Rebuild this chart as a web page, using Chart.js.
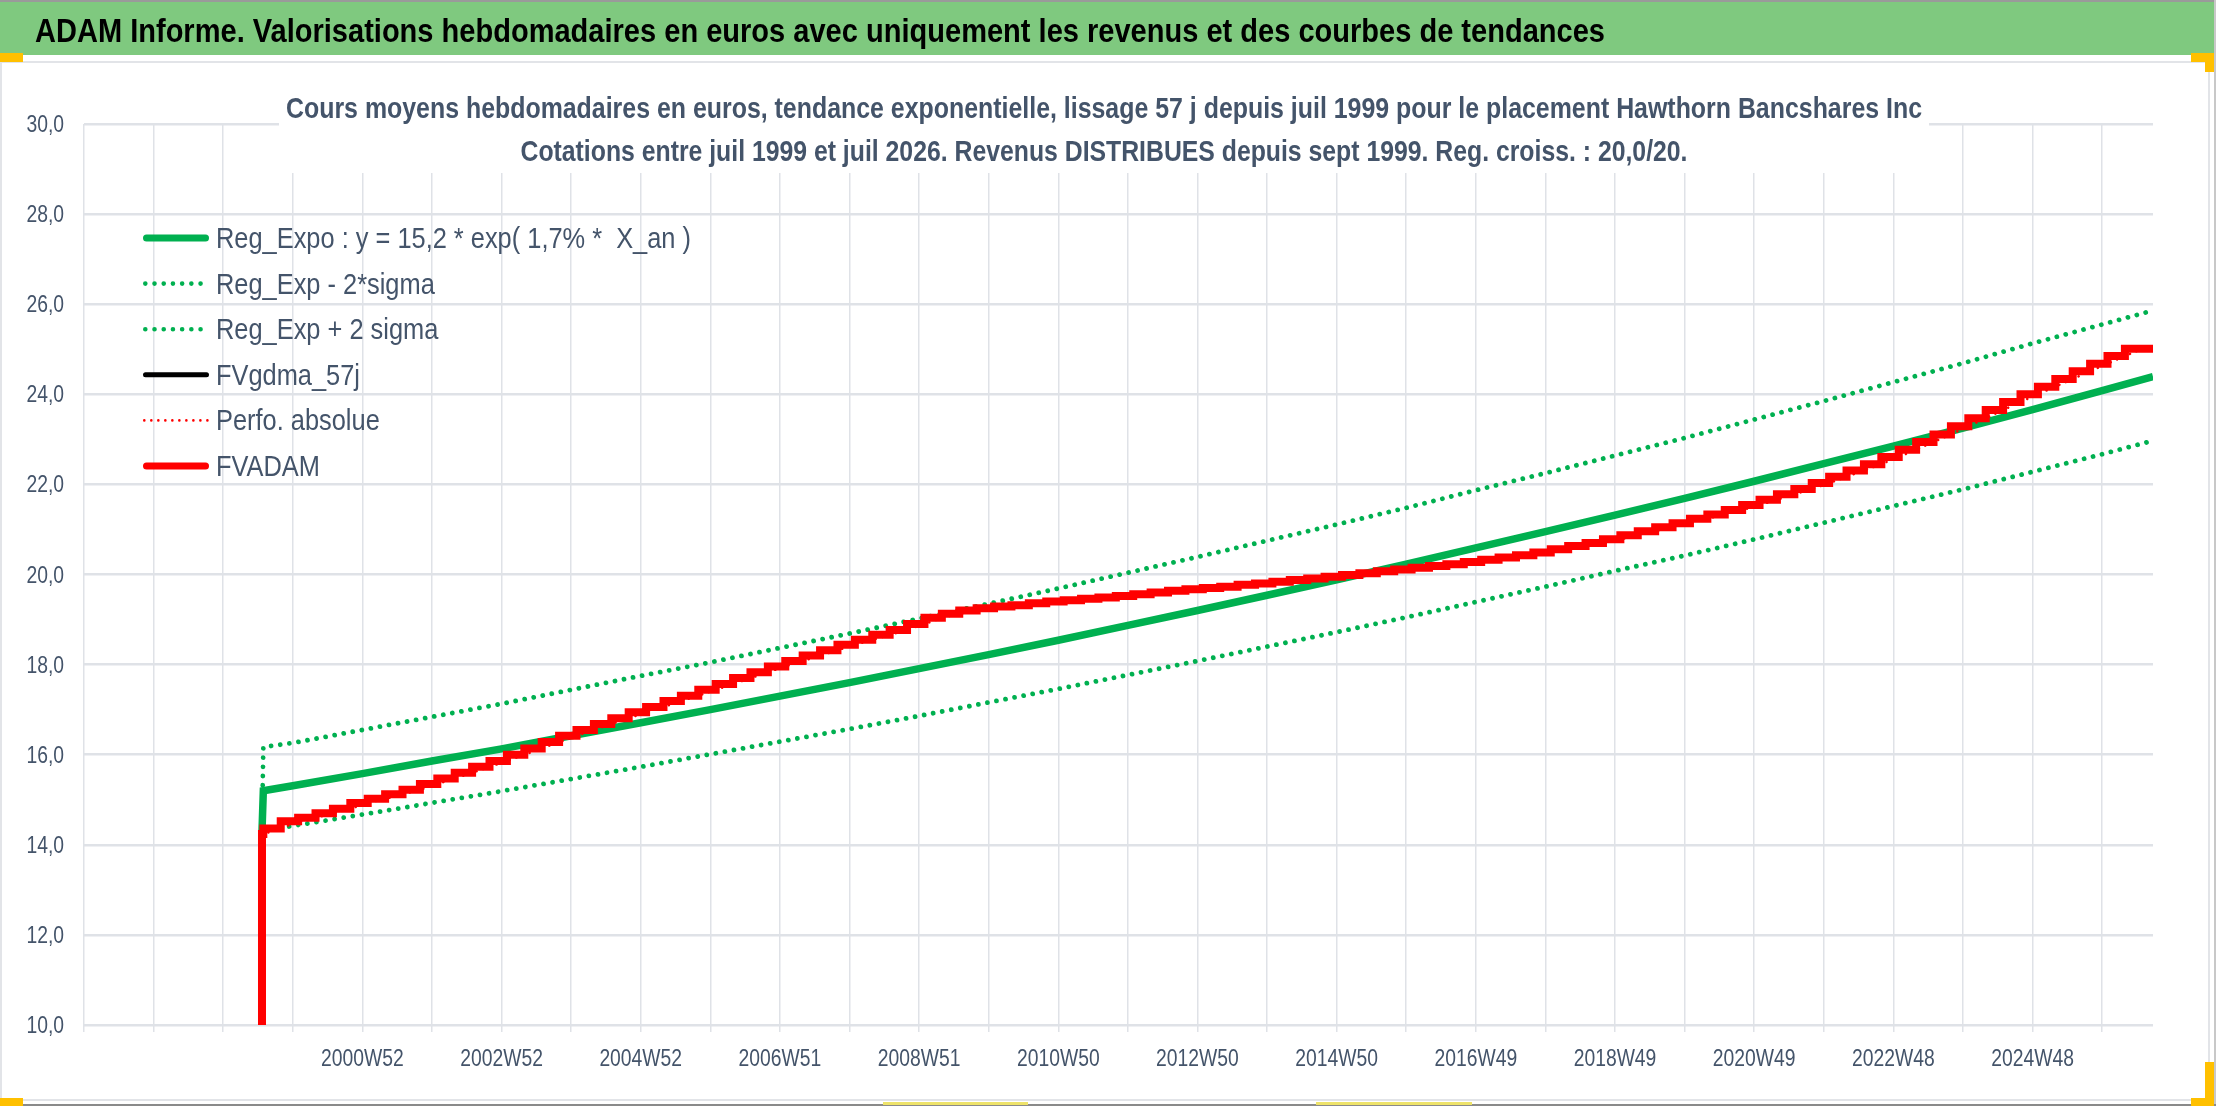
<!DOCTYPE html>
<html lang="fr">
<head>
<meta charset="utf-8">
<title>ADAM Informe - Hawthorn Bancshares Inc</title>
<script src="https://cdn.jsdelivr.net/npm/chart.js@4.4.1/dist/chart.umd.min.js"></script>
<style>
  html, body { margin: 0; padding: 0; background: #fff; }
  #page { position: relative; width: 2216px; height: 1106px; overflow: hidden; background: #fff; }
  #chartBox { position: absolute; left: 0; top: 0; width: 2216px; height: 1106px; }
  #frame { position: absolute; left: 0; top: 61px; width: 2206px; height: 1036px; border: 2px solid #e2e4e8; }
  #header { position: absolute; left: 0; top: 2px; width: 2214px; height: 53px; background: #7fc97f; }
  #header span { position: absolute; left: 35px; top: 2px; line-height: 53px; font-weight: bold; font-size: 34px;
                 font-family: 'Liberation Sans', sans-serif; color: #000; white-space: nowrap; transform-origin: 0 50%; }
  .edge { position: absolute; background: #9a9a9a; }
  .handle { position: absolute; background: #ffc000; }
  .mark { position: absolute; background: #eee36a; }
</style>
</head>
<body>
<div id="page">
  <div id="frame"></div>
  <div id="chartBox"><canvas id="chart"></canvas></div>
  <div id="header"><span id="headerText">ADAM Informe. Valorisations hebdomadaires en euros avec uniquement les revenus et des courbes de tendances</span></div>
  <div class="edge" style="left:0;top:0;width:2216px;height:2px"></div>
  <div class="edge" style="left:2214px;top:0;width:2px;height:1106px;background:#c8c8c8"></div>
  <div class="edge" style="left:0;top:1104px;width:2216px;height:2px;background:#8a8a8a"></div>
  <div class="handle" style="left:0;top:53px;width:23px;height:9px"></div>
  <div class="handle" style="left:2191px;top:53px;width:23px;height:9px"></div>
  <div class="handle" style="left:2205px;top:53px;width:9px;height:19px"></div>
  <div class="handle" style="left:0;top:1098px;width:23px;height:8px"></div>
  <div class="handle" style="left:2205px;top:1062px;width:9px;height:44px"></div>
  <div class="handle" style="left:2191px;top:1098px;width:23px;height:8px"></div>
  <div class="mark" style="left:883px;top:1102px;width:145px;height:3px"></div>
  <div class="mark" style="left:1316px;top:1102px;width:156px;height:3px"></div>
</div>
<script>
// ---- data (x = week index from the left edge of the axis) ----
const xMaxWeek = 1546;
const xGridWeeks = 52;      // one vertical grid line per 52 weeks
const xLabelWeeks = 104;    // one label every other grid line
const xLabels = ["", "", "2000W52", "2002W52", "2004W52", "2006W51", "2008W51", "2010W50",
                 "2012W50", "2014W50", "2016W49", "2018W49", "2020W49", "2022W48", "2024W48"];

const yMin = 10, yMax = 30, yStep = 2;

// trend curves, sampled at the yearly grid lines
const trendWeeks = [133, 134, 156, 208, 260, 312, 364, 416, 468, 520, 572, 624, 676, 728, 780,
                    832, 884, 936, 988, 1040, 1092, 1144, 1196, 1248, 1300, 1352, 1404, 1456, 1508, 1546];
const regExpo = [14.30, 15.20, 15.31, 15.58, 15.86, 16.13, 16.42, 16.71, 17.00, 17.30, 17.60, 17.91, 18.22, 18.54, 18.87,
                 19.20, 19.54, 19.88, 20.23, 20.59, 20.95, 21.32, 21.69, 22.07, 22.46, 22.85, 23.25, 23.66, 24.08, 24.39];
const regMinus2Sigma = [14.30, 14.31, 14.42, 14.67, 14.93, 15.19, 15.46, 15.73, 16.01, 16.29, 16.57, 16.86, 17.16, 17.46, 17.77,
                        18.08, 18.40, 18.72, 19.05, 19.39, 19.73, 20.08, 20.42, 20.78, 21.15, 21.52, 21.89, 22.28, 22.67, 22.97];
const regPlus2Sigma = [14.30, 16.17, 16.26, 16.55, 16.84, 17.13, 17.44, 17.75, 18.05, 18.37, 18.69, 19.02, 19.35, 19.69, 20.04,
                       20.39, 20.75, 21.11, 21.48, 21.87, 22.25, 22.64, 23.03, 23.44, 23.85, 24.27, 24.69, 25.13, 25.55, 25.86];

// FVADAM staircase: one value per quarter (13 weeks) from week 134, before that the series sits at the axis floor
const fvadamFloorWeek = 133;
const fvadamFloorValue = 10;
const fvadamStartWeek = 134;
const fvadamQuarterWeeks = 13;
const fvadamQuarterly = [
  14.24, 14.36, 14.52, 14.60, 14.70, 14.80, 14.93, 15.02, 15.12, 15.22,
  15.35, 15.47, 15.60, 15.73, 15.86, 16.00, 16.14, 16.28, 16.42, 16.55,
  16.68, 16.81, 16.94, 17.06, 17.19, 17.31, 17.44, 17.57, 17.70, 17.83,
  17.96, 18.08, 18.20, 18.32, 18.44, 18.55, 18.66, 18.77, 18.90, 19.04,
  19.13, 19.20, 19.25, 19.29, 19.32, 19.36, 19.40, 19.43, 19.46, 19.49,
  19.52, 19.56, 19.60, 19.64, 19.67, 19.70, 19.73, 19.77, 19.80, 19.84,
  19.88, 19.91, 19.95, 19.99, 20.03, 20.07, 20.11, 20.15, 20.19, 20.23,
  20.28, 20.33, 20.38, 20.43, 20.49, 20.56, 20.63, 20.70, 20.78, 20.87,
  20.96, 21.05, 21.14, 21.24, 21.33, 21.43, 21.54, 21.66, 21.78, 21.90,
  22.03, 22.17, 22.31, 22.45, 22.61, 22.77, 22.94, 23.11, 23.29, 23.47,
  23.65, 23.83, 24.00, 24.17, 24.34, 24.51, 24.68, 24.85, 25.01
];

const titleLines = [
  "Cours moyens hebdomadaires en euros, tendance exponentielle, lissage 57 j depuis juil 1999 pour le placement Hawthorn Bancshares Inc",
  "Cotations entre juil 1999 et juil 2026. Revenus DISTRIBUES depuis sept 1999. Reg. croiss. : 20,0/20."
];

// ---- styling ----
const GREEN = "#00b050";
const RED = "#ff0000";
const TEXT = "#44546a";
const GRID = "#dfe2e7";
const FONT = "'Liberation Sans', Arial, sans-serif";
const TICK_SIZE = 23;
const TICK_SQUEEZE = 0.84;   // the reference text is a narrow face

// header band text, squeezed to the reference width
const header = document.getElementById("headerText");
header.style.transform = `scaleX(${1570 / header.getBoundingClientRect().width})`;

function squeezed(ctx, text, x, y, k, align) {
  ctx.save();
  ctx.translate(x, y);
  ctx.scale(k, 1);
  ctx.textAlign = align;
  ctx.fillText(text, 0, 0);
  ctx.restore();
}
function fitText(ctx, text, x, y, width, align) {
  squeezed(ctx, text, x, y, width / ctx.measureText(text).width, align);
}
const fmtY = (v) => v.toFixed(1).replace(".", ",");

const trendPoints = (values) => trendWeeks.map((w, i) => ({ x: w, y: values[i] }));
const fvadamPoints = [{ x: fvadamFloorWeek, y: fvadamFloorValue }]
  .concat(fvadamQuarterly.map((v, i) => ({ x: fvadamStartWeek + i * fvadamQuarterWeeks, y: v })))
  .concat([{ x: xMaxWeek, y: fvadamQuarterly[fvadamQuarterly.length - 1] }]);

// tick labels in a narrow rendering, placed from the chart's own scales
const axisLabelPlugin = {
  id: "axisLabels",
  afterDraw(chart) {
    const { ctx } = chart;
    const { x, y } = chart.scales;
    ctx.save();
    ctx.fillStyle = TEXT;
    ctx.font = `${TICK_SIZE}px ${FONT}`;
    ctx.textBaseline = "alphabetic";
    y.ticks.forEach((t) => {
      squeezed(ctx, fmtY(t.value), y.right - 20, y.getPixelForValue(t.value) + 8, TICK_SQUEEZE, "right");
    });
    x.ticks.forEach((t) => {
      if (t.value % xLabelWeeks !== 0) return;
      const lab = xLabels[t.value / xLabelWeeks];
      if (lab) squeezed(ctx, lab, x.getPixelForValue(t.value), x.top + 41, TICK_SQUEEZE, "center");
    });
    ctx.restore();
  },
};

// two-line title in a white box laid over the top of the plot
const titlePlugin = {
  id: "boxTitle",
  afterDraw(chart) {
    const { ctx } = chart;
    ctx.save();
    ctx.fillStyle = "#fff";
    ctx.fillRect(279, 70, 1650, 103);
    ctx.fillStyle = TEXT;
    ctx.font = `bold 30px ${FONT}`;
    ctx.textBaseline = "alphabetic";
    fitText(ctx, titleLines[0], 1104, 118, 1636, "center");
    fitText(ctx, titleLines[1], 1104, 161, 1167, "center");
    ctx.restore();
  },
};

// Excel-like legend inside the plot, no box
const legendRows = { x0: 143, x1: 209, textX: 216, firstY: 238, step: 45.6, textWidth: 475 };
const legendSampleWidth = [7, 4.6, 4.6, 5, 2.6, 7];
const legendPlugin = {
  id: "plotLegend",
  afterDatasetsDraw(chart) {
    const { ctx } = chart;
    const sets = chart.data.datasets;
    ctx.save();
    ctx.font = `29px ${FONT}`;
    ctx.fillStyle = TEXT;
    ctx.textBaseline = "alphabetic";
    const k = legendRows.textWidth / ctx.measureText(sets[0].label).width;
    sets.forEach((ds, i) => {
      const y = legendRows.firstY + i * legendRows.step;
      const w = legendSampleWidth[i];
      ctx.save();
      ctx.strokeStyle = ds.borderColor;
      ctx.lineWidth = w;
      ctx.lineCap = "round";
      ctx.setLineDash(ds.borderDash || []);
      ctx.beginPath();
      ctx.moveTo(legendRows.x0 + w / 2, y);
      ctx.lineTo(legendRows.x1 - w / 2, y);
      ctx.stroke();
      ctx.restore();
      squeezed(ctx, ds.label, legendRows.textX, y + 10, k, "left");
    });
    ctx.restore();
  },
};

new Chart(document.getElementById("chart"), {
  type: "line",
  data: {
    datasets: [
      { label: "Reg_Expo : y = 15,2 * exp( 1,7% *  X_an )", data: trendPoints(regExpo),
        borderColor: GREEN, borderWidth: 7.5, order: 3 },
      { label: "Reg_Exp - 2*sigma", data: trendPoints(regMinus2Sigma),
        borderColor: GREEN, borderWidth: 4.8, borderDash: [0.01, 9.2], borderCapStyle: "round", order: 4 },
      { label: "Reg_Exp + 2 sigma", data: trendPoints(regPlus2Sigma),
        borderColor: GREEN, borderWidth: 4.8, borderDash: [0.01, 9.2], borderCapStyle: "round", order: 5 },
      { label: "FVgdma_57j", data: fvadamPoints, stepped: "after", borderColor: "#000", borderWidth: 4, order: 2 },
      { label: "Perfo. absolue", data: fvadamPoints, borderColor: RED, borderWidth: 2.6,
        borderDash: [0.01, 7], borderCapStyle: "round", order: 1 },
      { label: "FVADAM", data: fvadamPoints, stepped: "after", borderColor: RED, borderWidth: 8, order: 0 },
    ],
  },
  options: {
    responsive: true,
    maintainAspectRatio: false,
    animation: false,
    parsing: false,
    layout: { padding: { top: 124, right: 63, left: 0, bottom: 21 } },
    elements: { point: { radius: 0, hoverRadius: 0 }, line: { tension: 0, fill: false } },
    plugins: { legend: { display: false }, tooltip: { enabled: false }, title: { display: false } },
    scales: {
      x: {
        type: "linear",
        min: 0,
        max: xMaxWeek,
        afterBuildTicks(scale) {
          const ticks = [];
          for (let w = 0; w < xMaxWeek; w += xGridWeeks) ticks.push({ value: w });
          scale.ticks = ticks;
        },
        afterFit(scale) { scale.height = 60; },
        grid: { color: GRID, lineWidth: 1.5, tickLength: 7, drawTicks: true },
        border: { display: false },
        ticks: { display: false, autoSkip: false, maxRotation: 0 },
      },
      y: {
        min: yMin,
        max: yMax,
        afterFit(scale) { scale.width = 84; },
        grid: { color: GRID, lineWidth: 2.5, drawTicks: false },
        border: { display: false },
        ticks: { display: false, stepSize: yStep },
      },
    },
  },
  plugins: [legendPlugin, titlePlugin, axisLabelPlugin],
});
</script>
</body>
</html>
